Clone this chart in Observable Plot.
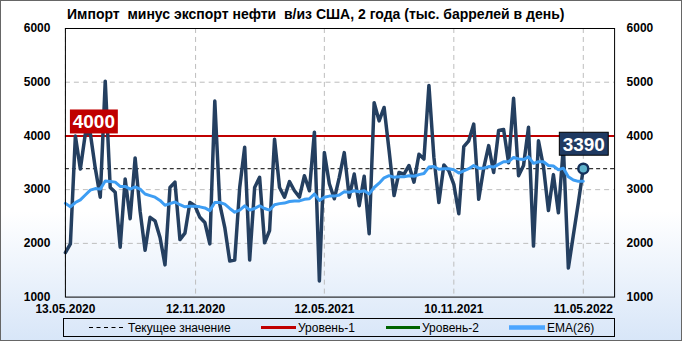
<!DOCTYPE html>
<html><head><meta charset="utf-8">
<script src="https://cdn.jsdelivr.net/npm/d3@7"></script>
<script src="https://cdn.jsdelivr.net/npm/@observablehq/plot@0.6"></script>
<style>
html,body{margin:0;padding:0;background:#fff;}
#chart{position:relative;width:682px;height:341px;box-sizing:border-box;border:1px solid #666;
  background:linear-gradient(180deg,#ffffff 0%,#ffffff 62%,#d8e6f8 100%);overflow:hidden;
  font-family:"Liberation Sans",Arial,sans-serif;color:#000;}
#title{position:absolute;left:66px;top:0;height:26px;line-height:27px;text-align:left;
  font-weight:bold;font-size:14px;white-space:pre;}
#plot{position:absolute;left:-1px;top:26px;}
#plot svg text{font-weight:bold;}
#legend{position:absolute;left:62px;top:317px;width:552px;height:19px;border:1px solid #000;box-sizing:border-box;}
#legend svg{position:absolute;left:0;top:0;}
#legend text{font-family:"Liberation Sans",Arial,sans-serif;font-size:12px;}
</style></head>
<body>
<div id="chart">
  <div id="title">Импорт  минус экспорт нефти  в/из США, 2 года (тыс. баррелей в день)</div>
  <div id="plot"></div>
  <div id="legend">
    <svg width="550" height="17">
      <line x1="25" x2="60" y1="8.5" y2="8.5" stroke="#000" stroke-width="1" stroke-dasharray="4,3.5"/>
      <text x="64" y="13">Текущее значение</text>
      <line x1="197" x2="232" y1="8.5" y2="8.5" stroke="#c00000" stroke-width="3"/>
      <text x="234" y="13">Уровень-1</text>
      <line x1="322" x2="356" y1="8.5" y2="8.5" stroke="#006400" stroke-width="3"/>
      <text x="358" y="13">Уровень-2</text>
      <line x1="445" x2="481" y1="8.5" y2="8.5" stroke="#4da6ff" stroke-width="4.5"/>
      <text x="483" y="13">EMA(26)</text>
    </svg>
  </div>
</div>
<script>
// Weekly net imports (thousand barrels/day), starting 13.05.2020
const startDate = "2020-05-13";
const imports = [1830,1990,4000,3385,4040,4050,3400,2860,5020,3040,
  2950,1930,3200,2460,3590,2600,1870,2485,2420,2110,
  1600,3040,3140,2070,2190,2760,2700,2485,2390,1990,
  4650,2730,2300,1670,1690,3040,3790,1690,3040,3230,
  2010,2240,3940,3040,2860,3150,2980,2860,3260,2980,
  4070,1300,3690,3110,2830,3230,3690,2860,3290,2700,
  3250,2180,4620,4280,4530,3730,2890,3320,3290,3450,
  3140,3660,3570,4940,3600,2760,3460,3350,3100,2550,
  3800,3910,4220,2820,3400,3820,3320,4100,4120,3500,
  4700,3260,3450,4160,1950,3910,3430,2610,3280,2570,
  3800,1540,2150,2750,3390];
const ema26 = [2745,2680,2760,2810,2900,2990,3020,3010,3160,3150,
  3140,3060,3060,3010,3050,3010,2920,2890,2860,2800,
  2710,2740,2770,2720,2680,2690,2690,2680,2660,2610,
  2760,2760,2730,2650,2580,2620,2700,2620,2650,2700,
  2650,2620,2720,2740,2750,2780,2790,2790,2820,2830,
  2920,2800,2860,2880,2880,2900,2960,2950,2980,2960,
  2980,2920,3040,3120,3220,3260,3230,3240,3240,3260,
  3250,3280,3300,3420,3430,3380,3390,3390,3370,3310,
  3350,3390,3450,3400,3400,3430,3420,3470,3520,3520,
  3600,3570,3560,3610,3490,3520,3520,3450,3440,3370,
  3400,3240,3180,3155,3155];
const tickLabels = ["13.05.2020","12.11.2020","12.05.2021","10.11.2021","11.05.2022"];
const yTicks = [1000,2000,3000,4000,5000,6000];
const level1 = 4000;
const currentValue = 3390;

const start = new Date(startDate + "T00:00:00Z");
const dates = imports.map((_, i) => d3.utcDay.offset(start, 7 * i));
const rows = dates.map((d, i) => ({date: d, value: imports[i], ema: ema26[i]}));
const tickDates = tickLabels.map(s => { const [dd, mm, yy] = s.split("."); return new Date(Date.UTC(+yy, +mm - 1, +dd)); });
const last = rows[rows.length - 1];
const xEnd = d3.utcDay.offset(start, 772);

const grid = {stroke: "#bdbdbd", strokeOpacity: 1, strokeDasharray: "5,4", strokeWidth: 1};
const plot = Plot.plot({
  width: 682, height: 292,
  marginTop: 1, marginBottom: 22, marginLeft: 65, marginRight: 67,
  style: {fontFamily: "Liberation Sans, Arial, sans-serif", fontSize: "12px", background: "transparent", overflow: "visible"},
  x: {type: "utc", domain: [start, xEnd]},
  y: {domain: [1000, 6000]},
  marks: [
    Plot.gridY([2000, 3000, 5000, 6000], grid),
    Plot.gridX(tickDates, grid),
    Plot.ruleY([currentValue], {stroke: "#000", strokeDasharray: "4,3", strokeWidth: 1}),
    Plot.ruleY([level1], {stroke: "#c00000", strokeWidth: 2}),
    Plot.lineY(rows, {x: "date", y: "value", stroke: "#243f60", strokeWidth: 3.5, strokeLinejoin: "round"}),
    Plot.lineY(rows, {x: "date", y: "ema", stroke: "#3d9df3", strokeWidth: 3, strokeLinejoin: "round"}),
    Plot.dot([last], {x: "date", y: "value", r: 5, fill: "#5fb3cc", stroke: "#14305a", strokeWidth: 2.5}),
    Plot.frame({stroke: "#000"}),
    Plot.axisY({anchor: "left", ticks: yTicks, tickSize: 0, tickPadding: 15, tickFormat: d3.format("d"), label: null, fontWeight: "bold"}),
    Plot.axisY({anchor: "right", ticks: yTicks, tickSize: 0, tickPadding: 12, tickFormat: d3.format("d"), label: null, fontWeight: "bold"}),
    Plot.axisX({ticks: tickDates, tickSize: 0, tickPadding: 7, label: null, fontWeight: "bold",
      tickFormat: d => tickLabels[tickDates.findIndex(t => +t === +d)]})
  ]
});
document.getElementById("plot").appendChild(plot);

// value labels using the plot's scales
const xs = plot.scale("x"), ys = plot.scale("y");
const svg = d3.select(plot);
const g = svg.append("g");
const lx = xs.apply(start) + 5, ly = ys.apply(level1);
g.append("rect").attr("x", lx).attr("y", ly - 26).attr("width", 48).attr("height", 24).attr("fill", "#c00000");
g.append("text").attr("x", lx + 24).attr("y", ly - 14).attr("dy", "0.36em").attr("text-anchor", "middle")
  .attr("fill", "#fff").attr("font-size", 19).attr("font-weight", "bold").text(String(level1));
const px = xs.apply(last.date), py = ys.apply(last.value);
g.append("rect").attr("x", px - 23.5).attr("y", py - 36).attr("width", 49).attr("height", 23)
  .attr("fill", "#1f3a62").attr("stroke", "#000").attr("stroke-width", 1);
g.append("text").attr("x", px + 1).attr("y", py - 24.5).attr("dy", "0.36em").attr("text-anchor", "middle")
  .attr("fill", "#fff").attr("font-size", 19).attr("font-weight", "bold").text(String(currentValue));
</script>
</body></html>
